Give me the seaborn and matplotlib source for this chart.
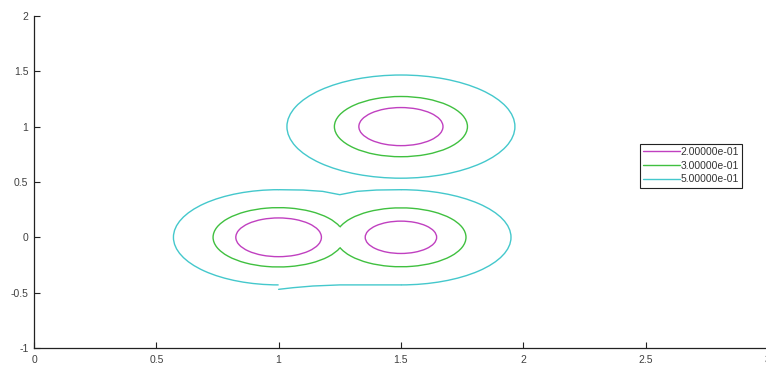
import matplotlib
matplotlib.use("Agg")
import matplotlib.pyplot as plt
from matplotlib.patches import Arc
from matplotlib.lines import Line2D
import seaborn as sns

# contour levels and their colours
level_vals = [0.2, 0.3, 0.5]
level_colors = ["#c040c0", "#40c040", "#44c8cc"]

# round contour pieces:
# level index, centre x, centre y, radius x, radius y, start angle, end angle
arc_level = [0, 1, 2, 0, 0, 1, 1, 2, 2]
arc_cx = [1.5, 1.5, 1.5, 1.0, 1.5, 1.0, 1.5, 1.0, 1.5]
arc_cy = [1.0, 1.0, 1.0, 0.0, 0.0, 0.0, 0.0, 0.0, 0.0]
arc_rx = [0.172, 0.272, 0.466, 0.175, 0.146, 0.268, 0.266, 0.43, 0.45]
arc_ry = [0.172, 0.272, 0.466, 0.175, 0.146, 0.268, 0.266, 0.43, 0.43]
arc_t1 = [0, 0, 0, 0, 0, 21, -160, 90, -90]
arc_t2 = [360, 360, 360, 360, 360, 339, 160, 270, 90]

# joins of the outer lower contour (level 0.5)
top_x = [1.0, 1.1, 1.18, 1.25, 1.32, 1.4, 1.5]
top_y = [0.43, 0.427, 0.415, 0.385, 0.415, 0.427, 0.43]
bot_x = [1.0, 1.06, 1.14, 1.25, 1.38, 1.5]
bot_y = [-0.47, -0.455, -0.44, -0.43, -0.43, -0.43]

x_ticks = [0, 0.5, 1, 1.5, 2, 2.5, 3]
y_ticks = [-1, -0.5, 0, 0.5, 1, 1.5, 2]

sns.set_style("ticks")
plt.rcParams["font.family"] = ["Liberation Sans", "DejaVu Sans"]
plt.rcParams["xtick.direction"] = "in"
plt.rcParams["ytick.direction"] = "in"

fig = plt.figure(figsize=(7.66, 3.69), dpi=100)
ax = fig.add_axes([0.0444, 0.0569, 0.958, 0.900])

for i in range(len(arc_cx)):
    ax.add_patch(Arc((arc_cx[i], arc_cy[i]), 2 * arc_rx[i], 2 * arc_ry[i],
                     theta1=arc_t1[i], theta2=arc_t2[i],
                     color=level_colors[arc_level[i]], lw=1.0))

sns.lineplot(x=top_x, y=top_y, sort=False, estimator=None,
             color=level_colors[2], lw=1.0, ax=ax)
sns.lineplot(x=bot_x, y=bot_y, sort=False, estimator=None,
             color=level_colors[2], lw=1.0, ax=ax)

ax.set_xlim(0, 3)
ax.set_ylim(-1, 2)
ax.set_xticks(x_ticks)
ax.set_xticklabels([f"{v:g}" for v in x_ticks])
ax.set_yticks(y_ticks)
ax.set_yticklabels([f"{v:g}" for v in y_ticks])
ax.tick_params(labelsize=7.5, colors="#222222", labelcolor="#404040",
               length=4, width=0.8)
ax.tick_params(axis="x", pad=5)
ax.tick_params(axis="y", pad=4)
sns.despine(ax=ax)
for s in ["left", "bottom"]:
    ax.spines[s].set_linewidth(0.9)
    ax.spines[s].set_color("#222222")

handles = [Line2D([], [], color=c, lw=1.0) for c in level_colors]
labels = [f"{v:.5e}" for v in level_vals]
leg = ax.legend(handles, labels, loc="upper left",
                bbox_to_anchor=(640 / 766, 1 - 144 / 369),
                bbox_transform=fig.transFigure, borderaxespad=0,
                fontsize=7.5, handlelength=3.5, handletextpad=0.1,
                labelspacing=0.35, borderpad=0.3, fancybox=False,
                framealpha=1, edgecolor="#222222")
leg.get_frame().set_linewidth(0.8)
for t in leg.get_texts():
    t.set_color("#333333")

fig.savefig("out.png", dpi=100)
